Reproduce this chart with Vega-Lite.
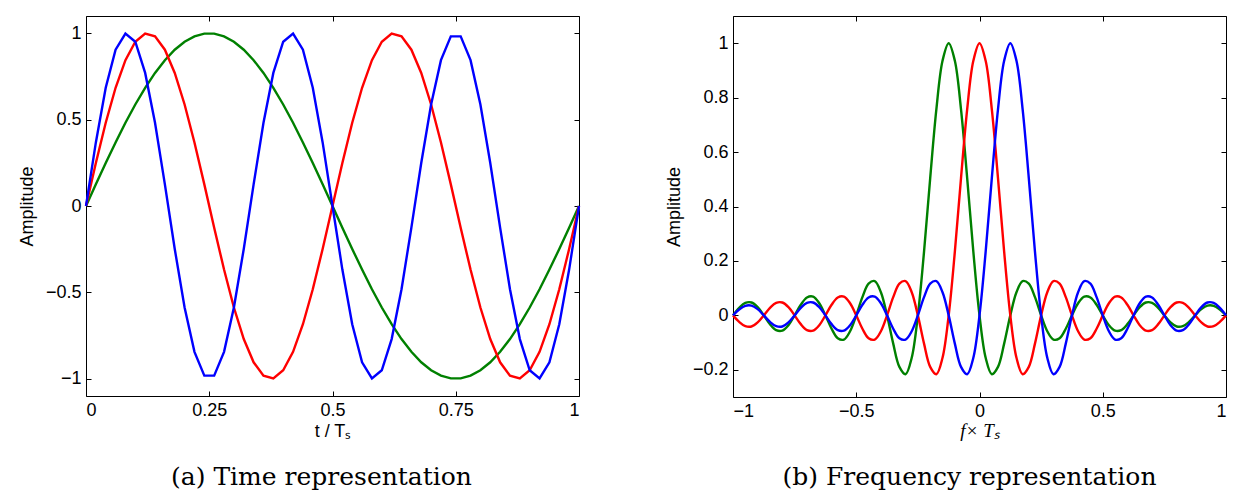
{
  "$schema": "https://vega.github.io/schema/vega-lite/v6.json",
  "background": "white",
  "padding": {"left": 17, "top": 15, "right": 12, "bottom": 0},
  "spacing": 79,
  "config": {
    "view": {"stroke": "black", "strokeWidth": 1},
    "axis": {
      "labelFont": "Liberation Sans",
      "labelFontSize": 18,
      "labelColor": "black",
      "titleFont": "Liberation Sans",
      "titleFontSize": 18,
      "titleFontWeight": "normal",
      "titleColor": "black",
      "domain": false,
      "grid": false,
      "ticks": true,
      "tickColor": "black",
      "tickWidth": 1,
      "tickSize": -5,
      "labelPadding": 10,
      "titlePadding": 9,
      "minExtent": 0
    },
    "title": {
      "font": "DejaVu Serif",
      "fontSize": 25,
      "fontWeight": "normal",
      "color": "black",
      "orient": "bottom",
      "frame": "group",
      "anchor": "middle",
      "offset": 25
    }
  },
  "datasets": {
    "time": [
      {"t":0,"n":1,"a":0},{"t":0.02,"n":1,"a":0.1253},{"t":0.04,"n":1,"a":0.2487},{"t":0.06,"n":1,"a":0.3681},{"t":0.08,"n":1,"a":0.4818},{"t":0.1,"n":1,"a":0.5878},{"t":0.12,"n":1,"a":0.6845},{"t":0.14,"n":1,"a":0.7705},{"t":0.16,"n":1,"a":0.8443},{"t":0.18,"n":1,"a":0.9048},{"t":0.2,"n":1,"a":0.9511},{"t":0.22,"n":1,"a":0.9823},{"t":0.24,"n":1,"a":0.998},{"t":0.26,"n":1,"a":0.998},{"t":0.28,"n":1,"a":0.9823},{"t":0.3,"n":1,"a":0.9511},{"t":0.32,"n":1,"a":0.9048},{"t":0.34,"n":1,"a":0.8443},{"t":0.36,"n":1,"a":0.7705},{"t":0.38,"n":1,"a":0.6845},{"t":0.4,"n":1,"a":0.5878},{"t":0.42,"n":1,"a":0.4818},{"t":0.44,"n":1,"a":0.3681},{"t":0.46,"n":1,"a":0.2487},{"t":0.48,"n":1,"a":0.1253},{"t":0.5,"n":1,"a":0},{"t":0.52,"n":1,"a":-0.1253},{"t":0.54,"n":1,"a":-0.2487},{"t":0.56,"n":1,"a":-0.3681},{"t":0.58,"n":1,"a":-0.4818},{"t":0.6,"n":1,"a":-0.5878},{"t":0.62,"n":1,"a":-0.6845},{"t":0.64,"n":1,"a":-0.7705},{"t":0.66,"n":1,"a":-0.8443},{"t":0.68,"n":1,"a":-0.9048},{"t":0.7,"n":1,"a":-0.9511},{"t":0.72,"n":1,"a":-0.9823},{"t":0.74,"n":1,"a":-0.998},{"t":0.76,"n":1,"a":-0.998},{"t":0.78,"n":1,"a":-0.9823},{"t":0.8,"n":1,"a":-0.9511},{"t":0.82,"n":1,"a":-0.9048},{"t":0.84,"n":1,"a":-0.8443},{"t":0.86,"n":1,"a":-0.7705},{"t":0.88,"n":1,"a":-0.6845},{"t":0.9,"n":1,"a":-0.5878},{"t":0.92,"n":1,"a":-0.4818},{"t":0.94,"n":1,"a":-0.3681},{"t":0.96,"n":1,"a":-0.2487},{"t":0.98,"n":1,"a":-0.1253},{"t":1,"n":1,"a":0},
      {"t":0,"n":2,"a":0},{"t":0.02,"n":2,"a":0.2487},{"t":0.04,"n":2,"a":0.4818},{"t":0.06,"n":2,"a":0.6845},{"t":0.08,"n":2,"a":0.8443},{"t":0.1,"n":2,"a":0.9511},{"t":0.12,"n":2,"a":0.998},{"t":0.14,"n":2,"a":0.9823},{"t":0.16,"n":2,"a":0.9048},{"t":0.18,"n":2,"a":0.7705},{"t":0.2,"n":2,"a":0.5878},{"t":0.22,"n":2,"a":0.3681},{"t":0.24,"n":2,"a":0.1253},{"t":0.26,"n":2,"a":-0.1253},{"t":0.28,"n":2,"a":-0.3681},{"t":0.3,"n":2,"a":-0.5878},{"t":0.32,"n":2,"a":-0.7705},{"t":0.34,"n":2,"a":-0.9048},{"t":0.36,"n":2,"a":-0.9823},{"t":0.38,"n":2,"a":-0.998},{"t":0.4,"n":2,"a":-0.9511},{"t":0.42,"n":2,"a":-0.8443},{"t":0.44,"n":2,"a":-0.6845},{"t":0.46,"n":2,"a":-0.4818},{"t":0.48,"n":2,"a":-0.2487},{"t":0.5,"n":2,"a":0},{"t":0.52,"n":2,"a":0.2487},{"t":0.54,"n":2,"a":0.4818},{"t":0.56,"n":2,"a":0.6845},{"t":0.58,"n":2,"a":0.8443},{"t":0.6,"n":2,"a":0.9511},{"t":0.62,"n":2,"a":0.998},{"t":0.64,"n":2,"a":0.9823},{"t":0.66,"n":2,"a":0.9048},{"t":0.68,"n":2,"a":0.7705},{"t":0.7,"n":2,"a":0.5878},{"t":0.72,"n":2,"a":0.3681},{"t":0.74,"n":2,"a":0.1253},{"t":0.76,"n":2,"a":-0.1253},{"t":0.78,"n":2,"a":-0.3681},{"t":0.8,"n":2,"a":-0.5878},{"t":0.82,"n":2,"a":-0.7705},{"t":0.84,"n":2,"a":-0.9048},{"t":0.86,"n":2,"a":-0.9823},{"t":0.88,"n":2,"a":-0.998},{"t":0.9,"n":2,"a":-0.9511},{"t":0.92,"n":2,"a":-0.8443},{"t":0.94,"n":2,"a":-0.6845},{"t":0.96,"n":2,"a":-0.4818},{"t":0.98,"n":2,"a":-0.2487},{"t":1,"n":2,"a":0},
      {"t":0,"n":3,"a":0},{"t":0.02,"n":3,"a":0.3681},{"t":0.04,"n":3,"a":0.6845},{"t":0.06,"n":3,"a":0.9048},{"t":0.08,"n":3,"a":0.998},{"t":0.1,"n":3,"a":0.9511},{"t":0.12,"n":3,"a":0.7705},{"t":0.14,"n":3,"a":0.4818},{"t":0.16,"n":3,"a":0.1253},{"t":0.18,"n":3,"a":-0.2487},{"t":0.2,"n":3,"a":-0.5878},{"t":0.22,"n":3,"a":-0.8443},{"t":0.24,"n":3,"a":-0.9823},{"t":0.26,"n":3,"a":-0.9823},{"t":0.28,"n":3,"a":-0.8443},{"t":0.3,"n":3,"a":-0.5878},{"t":0.32,"n":3,"a":-0.2487},{"t":0.34,"n":3,"a":0.1253},{"t":0.36,"n":3,"a":0.4818},{"t":0.38,"n":3,"a":0.7705},{"t":0.4,"n":3,"a":0.9511},{"t":0.42,"n":3,"a":0.998},{"t":0.44,"n":3,"a":0.9048},{"t":0.46,"n":3,"a":0.6845},{"t":0.48,"n":3,"a":0.3681},{"t":0.5,"n":3,"a":0},{"t":0.52,"n":3,"a":-0.3681},{"t":0.54,"n":3,"a":-0.6845},{"t":0.56,"n":3,"a":-0.9048},{"t":0.58,"n":3,"a":-0.998},{"t":0.6,"n":3,"a":-0.9511},{"t":0.62,"n":3,"a":-0.7705},{"t":0.64,"n":3,"a":-0.4818},{"t":0.66,"n":3,"a":-0.1253},{"t":0.68,"n":3,"a":0.2487},{"t":0.7,"n":3,"a":0.5878},{"t":0.72,"n":3,"a":0.8443},{"t":0.74,"n":3,"a":0.9823},{"t":0.76,"n":3,"a":0.9823},{"t":0.78,"n":3,"a":0.8443},{"t":0.8,"n":3,"a":0.5878},{"t":0.82,"n":3,"a":0.2487},{"t":0.84,"n":3,"a":-0.1253},{"t":0.86,"n":3,"a":-0.4818},{"t":0.88,"n":3,"a":-0.7705},{"t":0.9,"n":3,"a":-0.9511},{"t":0.92,"n":3,"a":-0.998},{"t":0.94,"n":3,"a":-0.9048},{"t":0.96,"n":3,"a":-0.6845},{"t":0.98,"n":3,"a":-0.3681},{"t":1,"n":3,"a":0}
    ],
    "freq": [
      {"f":-1,"n":1,"a":0},{"f":-0.975,"n":1,"a":0.0275},{"f":-0.95,"n":1,"a":0.0459},{"f":-0.925,"n":1,"a":0.0473},{"f":-0.9,"n":1,"a":0.0302},{"f":-0.875,"n":1,"a":0},{"f":-0.85,"n":1,"a":-0.0323},{"f":-0.825,"n":1,"a":-0.0541},{"f":-0.8,"n":1,"a":-0.0561},{"f":-0.775,"n":1,"a":-0.036},{"f":-0.75,"n":1,"a":0},{"f":-0.725,"n":1,"a":0.039},{"f":-0.7,"n":1,"a":0.0658},{"f":-0.675,"n":1,"a":0.0688},{"f":-0.65,"n":1,"a":0.0445},{"f":-0.625,"n":1,"a":0},{"f":-0.6,"n":1,"a":-0.0492},{"f":-0.575,"n":1,"a":-0.0841},{"f":-0.55,"n":1,"a":-0.089},{"f":-0.525,"n":1,"a":-0.0585},{"f":-0.5,"n":1,"a":0},{"f":-0.475,"n":1,"a":0.0668},{"f":-0.45,"n":1,"a":0.1164},{"f":-0.425,"n":1,"a":0.1261},{"f":-0.4,"n":1,"a":0.085},{"f":-0.375,"n":1,"a":0},{"f":-0.35,"n":1,"a":-0.1039},{"f":-0.325,"n":1,"a":-0.1892},{"f":-0.3,"n":1,"a":-0.2162},{"f":-0.275,"n":1,"a":-0.1559},{"f":-0.25,"n":1,"a":0},{"f":-0.225,"n":1,"a":0.2339},{"f":-0.2,"n":1,"a":0.5046},{"f":-0.175,"n":1,"a":0.7568},{"f":-0.15,"n":1,"a":0.9355},{"f":-0.125,"n":1,"a":1},{"f":-0.1,"n":1,"a":0.9355},{"f":-0.075,"n":1,"a":0.7568},{"f":-0.05,"n":1,"a":0.5046},{"f":-0.025,"n":1,"a":0.2339},{"f":0,"n":1,"a":0},{"f":0.025,"n":1,"a":-0.1559},{"f":0.05,"n":1,"a":-0.2162},{"f":0.075,"n":1,"a":-0.1892},{"f":0.1,"n":1,"a":-0.1039},{"f":0.125,"n":1,"a":0},{"f":0.15,"n":1,"a":0.085},{"f":0.175,"n":1,"a":0.1261},{"f":0.2,"n":1,"a":0.1164},{"f":0.225,"n":1,"a":0.0668},{"f":0.25,"n":1,"a":0},{"f":0.275,"n":1,"a":-0.0585},{"f":0.3,"n":1,"a":-0.089},{"f":0.325,"n":1,"a":-0.0841},{"f":0.35,"n":1,"a":-0.0492},{"f":0.375,"n":1,"a":0},{"f":0.4,"n":1,"a":0.0445},{"f":0.425,"n":1,"a":0.0688},{"f":0.45,"n":1,"a":0.0658},{"f":0.475,"n":1,"a":0.039},{"f":0.5,"n":1,"a":0},{"f":0.525,"n":1,"a":-0.036},{"f":0.55,"n":1,"a":-0.0561},{"f":0.575,"n":1,"a":-0.0541},{"f":0.6,"n":1,"a":-0.0323},{"f":0.625,"n":1,"a":0},{"f":0.65,"n":1,"a":0.0302},{"f":0.675,"n":1,"a":0.0473},{"f":0.7,"n":1,"a":0.0459},{"f":0.725,"n":1,"a":0.0275},{"f":0.75,"n":1,"a":0},{"f":0.775,"n":1,"a":-0.026},{"f":0.8,"n":1,"a":-0.0409},{"f":0.825,"n":1,"a":-0.0398},{"f":0.85,"n":1,"a":-0.024},{"f":0.875,"n":1,"a":0},{"f":0.9,"n":1,"a":0.0228},{"f":0.925,"n":1,"a":0.036},{"f":0.95,"n":1,"a":0.0352},{"f":0.975,"n":1,"a":0.0213},{"f":1,"n":1,"a":0},
      {"f":-1,"n":2,"a":0},{"f":-0.975,"n":2,"a":-0.024},{"f":-0.95,"n":2,"a":-0.0398},{"f":-0.925,"n":2,"a":-0.0409},{"f":-0.9,"n":2,"a":-0.026},{"f":-0.875,"n":2,"a":0},{"f":-0.85,"n":2,"a":0.0275},{"f":-0.825,"n":2,"a":0.0459},{"f":-0.8,"n":2,"a":0.0473},{"f":-0.775,"n":2,"a":0.0302},{"f":-0.75,"n":2,"a":0},{"f":-0.725,"n":2,"a":-0.0323},{"f":-0.7,"n":2,"a":-0.0541},{"f":-0.675,"n":2,"a":-0.0561},{"f":-0.65,"n":2,"a":-0.036},{"f":-0.625,"n":2,"a":0},{"f":-0.6,"n":2,"a":0.039},{"f":-0.575,"n":2,"a":0.0658},{"f":-0.55,"n":2,"a":0.0688},{"f":-0.525,"n":2,"a":0.0445},{"f":-0.5,"n":2,"a":0},{"f":-0.475,"n":2,"a":-0.0492},{"f":-0.45,"n":2,"a":-0.0841},{"f":-0.425,"n":2,"a":-0.089},{"f":-0.4,"n":2,"a":-0.0585},{"f":-0.375,"n":2,"a":0},{"f":-0.35,"n":2,"a":0.0668},{"f":-0.325,"n":2,"a":0.1164},{"f":-0.3,"n":2,"a":0.1261},{"f":-0.275,"n":2,"a":0.085},{"f":-0.25,"n":2,"a":0},{"f":-0.225,"n":2,"a":-0.1039},{"f":-0.2,"n":2,"a":-0.1892},{"f":-0.175,"n":2,"a":-0.2162},{"f":-0.15,"n":2,"a":-0.1559},{"f":-0.125,"n":2,"a":0},{"f":-0.1,"n":2,"a":0.2339},{"f":-0.075,"n":2,"a":0.5046},{"f":-0.05,"n":2,"a":0.7568},{"f":-0.025,"n":2,"a":0.9355},{"f":0,"n":2,"a":1},{"f":0.025,"n":2,"a":0.9355},{"f":0.05,"n":2,"a":0.7568},{"f":0.075,"n":2,"a":0.5046},{"f":0.1,"n":2,"a":0.2339},{"f":0.125,"n":2,"a":0},{"f":0.15,"n":2,"a":-0.1559},{"f":0.175,"n":2,"a":-0.2162},{"f":0.2,"n":2,"a":-0.1892},{"f":0.225,"n":2,"a":-0.1039},{"f":0.25,"n":2,"a":0},{"f":0.275,"n":2,"a":0.085},{"f":0.3,"n":2,"a":0.1261},{"f":0.325,"n":2,"a":0.1164},{"f":0.35,"n":2,"a":0.0668},{"f":0.375,"n":2,"a":0},{"f":0.4,"n":2,"a":-0.0585},{"f":0.425,"n":2,"a":-0.089},{"f":0.45,"n":2,"a":-0.0841},{"f":0.475,"n":2,"a":-0.0492},{"f":0.5,"n":2,"a":0},{"f":0.525,"n":2,"a":0.0445},{"f":0.55,"n":2,"a":0.0688},{"f":0.575,"n":2,"a":0.0658},{"f":0.6,"n":2,"a":0.039},{"f":0.625,"n":2,"a":0},{"f":0.65,"n":2,"a":-0.036},{"f":0.675,"n":2,"a":-0.0561},{"f":0.7,"n":2,"a":-0.0541},{"f":0.725,"n":2,"a":-0.0323},{"f":0.75,"n":2,"a":0},{"f":0.775,"n":2,"a":0.0302},{"f":0.8,"n":2,"a":0.0473},{"f":0.825,"n":2,"a":0.0459},{"f":0.85,"n":2,"a":0.0275},{"f":0.875,"n":2,"a":0},{"f":0.9,"n":2,"a":-0.026},{"f":0.925,"n":2,"a":-0.0409},{"f":0.95,"n":2,"a":-0.0398},{"f":0.975,"n":2,"a":-0.024},{"f":1,"n":2,"a":0},
      {"f":-1,"n":3,"a":0},{"f":-0.975,"n":3,"a":0.0213},{"f":-0.95,"n":3,"a":0.0352},{"f":-0.925,"n":3,"a":0.036},{"f":-0.9,"n":3,"a":0.0228},{"f":-0.875,"n":3,"a":0},{"f":-0.85,"n":3,"a":-0.024},{"f":-0.825,"n":3,"a":-0.0398},{"f":-0.8,"n":3,"a":-0.0409},{"f":-0.775,"n":3,"a":-0.026},{"f":-0.75,"n":3,"a":0},{"f":-0.725,"n":3,"a":0.0275},{"f":-0.7,"n":3,"a":0.0459},{"f":-0.675,"n":3,"a":0.0473},{"f":-0.65,"n":3,"a":0.0302},{"f":-0.625,"n":3,"a":0},{"f":-0.6,"n":3,"a":-0.0323},{"f":-0.575,"n":3,"a":-0.0541},{"f":-0.55,"n":3,"a":-0.0561},{"f":-0.525,"n":3,"a":-0.036},{"f":-0.5,"n":3,"a":0},{"f":-0.475,"n":3,"a":0.039},{"f":-0.45,"n":3,"a":0.0658},{"f":-0.425,"n":3,"a":0.0688},{"f":-0.4,"n":3,"a":0.0445},{"f":-0.375,"n":3,"a":0},{"f":-0.35,"n":3,"a":-0.0492},{"f":-0.325,"n":3,"a":-0.0841},{"f":-0.3,"n":3,"a":-0.089},{"f":-0.275,"n":3,"a":-0.0585},{"f":-0.25,"n":3,"a":0},{"f":-0.225,"n":3,"a":0.0668},{"f":-0.2,"n":3,"a":0.1164},{"f":-0.175,"n":3,"a":0.1261},{"f":-0.15,"n":3,"a":0.085},{"f":-0.125,"n":3,"a":0},{"f":-0.1,"n":3,"a":-0.1039},{"f":-0.075,"n":3,"a":-0.1892},{"f":-0.05,"n":3,"a":-0.2162},{"f":-0.025,"n":3,"a":-0.1559},{"f":0,"n":3,"a":0},{"f":0.025,"n":3,"a":0.2339},{"f":0.05,"n":3,"a":0.5046},{"f":0.075,"n":3,"a":0.7568},{"f":0.1,"n":3,"a":0.9355},{"f":0.125,"n":3,"a":1},{"f":0.15,"n":3,"a":0.9355},{"f":0.175,"n":3,"a":0.7568},{"f":0.2,"n":3,"a":0.5046},{"f":0.225,"n":3,"a":0.2339},{"f":0.25,"n":3,"a":0},{"f":0.275,"n":3,"a":-0.1559},{"f":0.3,"n":3,"a":-0.2162},{"f":0.325,"n":3,"a":-0.1892},{"f":0.35,"n":3,"a":-0.1039},{"f":0.375,"n":3,"a":0},{"f":0.4,"n":3,"a":0.085},{"f":0.425,"n":3,"a":0.1261},{"f":0.45,"n":3,"a":0.1164},{"f":0.475,"n":3,"a":0.0668},{"f":0.5,"n":3,"a":0},{"f":0.525,"n":3,"a":-0.0585},{"f":0.55,"n":3,"a":-0.089},{"f":0.575,"n":3,"a":-0.0841},{"f":0.6,"n":3,"a":-0.0492},{"f":0.625,"n":3,"a":0},{"f":0.65,"n":3,"a":0.0445},{"f":0.675,"n":3,"a":0.0688},{"f":0.7,"n":3,"a":0.0658},{"f":0.725,"n":3,"a":0.039},{"f":0.75,"n":3,"a":0},{"f":0.775,"n":3,"a":-0.036},{"f":0.8,"n":3,"a":-0.0561},{"f":0.825,"n":3,"a":-0.0541},{"f":0.85,"n":3,"a":-0.0323},{"f":0.875,"n":3,"a":0},{"f":0.9,"n":3,"a":0.0302},{"f":0.925,"n":3,"a":0.0473},{"f":0.95,"n":3,"a":0.0459},{"f":0.975,"n":3,"a":0.0275},{"f":1,"n":3,"a":0}
    ]
  },
  "hconcat": [
    {
      "width": 493,
      "height": 380,
      "title": {"text": "(a)  Time representation", "dx": -11},
      "data": {"name": "time"},
      "layer": [
        {
          "mark": {"type": "line", "strokeWidth": 2.4},
          "encoding": {
            "x": {"field": "t", "type": "quantitative", "scale": {"domain": [0, 1], "nice": false},
                  "axis": {"orient": "bottom", "values": [0, 0.25, 0.5, 0.75, 1], "format": ".2~f", "title": "t / Tₛ", "titlePadding": 3}},
            "y": {"field": "a", "type": "quantitative", "scale": {"domain": [-1.1, 1.1], "nice": false},
                  "axis": {"orient": "left", "values": [-1, -0.5, 0, 0.5, 1], "format": ".2~f", "title": "Amplitude"}},
            "color": {"field": "n", "type": "nominal", "scale": {"domain": [1, 2, 3], "range": ["#008000", "#ff0000", "#0000ff"]}, "legend": null}
          }
        },
        {
          "mark": {"type": "line", "opacity": 0},
          "encoding": {
            "x": {"field": "t", "type": "quantitative",
                  "axis": {"orient": "top", "values": [0, 0.25, 0.5, 0.75, 1], "labels": false, "title": null}},
            "y": {"field": "a", "type": "quantitative",
                  "axis": {"orient": "right", "values": [-1, -0.5, 0, 0.5, 1], "labels": false, "title": null}}
          }
        }
      ],
      "resolve": {"axis": {"x": "independent", "y": "independent"}}
    },
    {
      "width": 493,
      "height": 381,
      "title": {"text": "(b)  Frequency representation", "dx": -10},
      "data": {"name": "freq"},
      "layer": [
        {
          "mark": {"type": "line", "strokeWidth": 2.4, "interpolate": "catmull-rom"},
          "encoding": {
            "x": {"field": "f", "type": "quantitative", "scale": {"domain": [-1, 1], "nice": false},
                  "axis": {"orient": "bottom", "values": [-1, -0.5, 0, 0.5, 1], "format": ".1~f", "title": "f× Tₛ",
                           "titleFont": "Liberation Serif", "titleFontStyle": "italic", "titleFontSize": 19, "titlePadding": 1}},
            "y": {"field": "a", "type": "quantitative", "scale": {"domain": [-0.3, 1.1], "nice": false},
                  "axis": {"orient": "left", "values": [-0.2, 0, 0.2, 0.4, 0.6, 0.8, 1], "format": ".1~f", "title": "Amplitude"}},
            "color": {"field": "n", "type": "nominal", "scale": {"domain": [1, 2, 3], "range": ["#008000", "#ff0000", "#0000ff"]}, "legend": null}
          }
        },
        {
          "mark": {"type": "line", "opacity": 0},
          "encoding": {
            "x": {"field": "f", "type": "quantitative",
                  "axis": {"orient": "top", "values": [-1, -0.5, 0, 0.5, 1], "labels": false, "title": null}},
            "y": {"field": "a", "type": "quantitative",
                  "axis": {"orient": "right", "values": [-0.2, 0, 0.2, 0.4, 0.6, 0.8, 1], "labels": false, "title": null}}
          }
        }
      ],
      "resolve": {"axis": {"x": "independent", "y": "independent"}}
    }
  ]
}
